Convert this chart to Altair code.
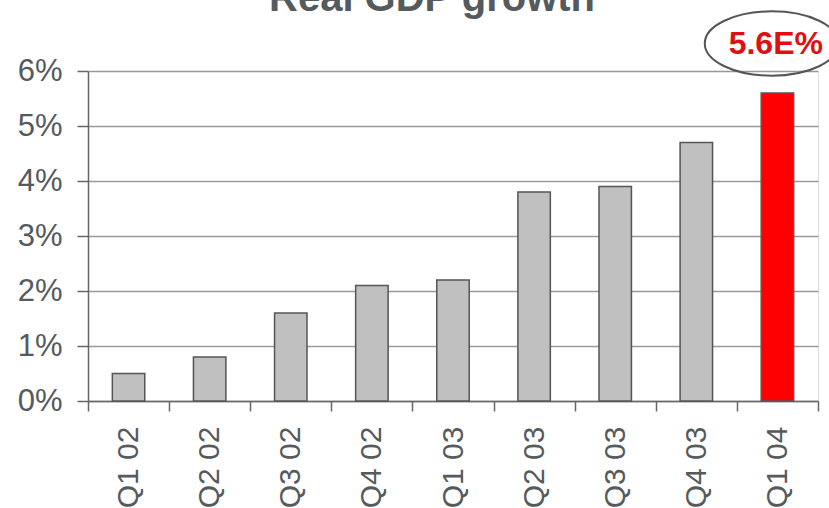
import altair as alt
import pandas as pd

quarters = ["Q1 02", "Q2 02", "Q3 02", "Q4 02", "Q1 03", "Q2 03", "Q3 03", "Q4 03", "Q1 04"]
growth = [0.5, 0.8, 1.6, 2.1, 2.2, 3.8, 3.9, 4.7, 5.6]
highlight = [False, False, False, False, False, False, False, False, True]
y_ticks = [0, 1, 2, 3, 4, 5, 6]
title_text = "Real GDP growth"
callout_quarter = ["Q1 04"]
callout_text = ["5.6E%"]
callout_level = [6.5]

FONT = "Liberation Sans"
TXT = "#555a5d"

df = pd.DataFrame({"q": quarters, "g": growth, "hl": highlight})
call_df = pd.DataFrame({"q": callout_quarter, "t": callout_text, "lvl": callout_level})
title_df = pd.DataFrame({"t": [title_text]})

x_enc = alt.X(
    "q:N", sort=quarters, title=None,
    scale=alt.Scale(paddingInner=0, paddingOuter=0),
    axis=alt.Axis(labelAngle=-90, labelFont=FONT, labelFontSize=30, labelColor=TXT,
                  labelPadding=15, tickBand="extent", tickSize=10, tickColor="#666",
                  tickWidth=1.5, domainColor="#666", domainWidth=1.5, grid=False),
)
y_scale = alt.Scale(domain=[0, 6], nice=False, zero=True)

bars = alt.Chart(df).mark_bar(width=alt.RelativeBandSize(0.4), stroke="#555", strokeWidth=1.5).encode(
    x=x_enc,
    y=alt.Y("g:Q", scale=y_scale, title=None,
            axis=alt.Axis(values=y_ticks, labelExpr="datum.value + '%'", labelFont=FONT,
                          labelFontSize=31, labelColor=TXT, labelPadding=15,
                          tickSize=11, tickColor="#666", tickWidth=1.5,
                          domainColor="#666", domainWidth=1.5,
                          grid=True, gridColor="#999", gridWidth=1.5)),
    color=alt.Color("hl:N", scale=alt.Scale(domain=[False, True], range=["#c0c0c0", "#ff0000"]), legend=None),
)

ellipse_path = "M -1 0 A 1 0.48 0 1 1 1 0 A 1 0.48 0 1 1 -1 0 Z"
ellipse = alt.Chart(call_df).mark_point(
    shape=ellipse_path, size=17956, filled=False, stroke="#555", strokeWidth=2, opacity=1
).encode(
    x=alt.X("q:N", sort=quarters, bandPosition=0.43),
    y=alt.Y("lvl:Q", scale=y_scale),
)

label = alt.Chart(call_df).mark_text(
    font=FONT, fontSize=32, fontWeight="bold", color="#dd1111", align="center", baseline="middle"
).encode(
    x=alt.X("q:N", sort=quarters, bandPosition=0.48),
    y=alt.Y("lvl:Q", scale=y_scale),
    text="t:N",
)

title = alt.Chart(title_df).mark_text(
    font=FONT, fontSize=40, fontWeight="bold", color=TXT, align="center", baseline="alphabetic"
).encode(
    x=alt.value(344), y=alt.value(-60), text="t:N",
)

chart = alt.layer(bars, ellipse, label, title).properties(
    width=730, height=330,
    autosize=alt.AutoSizeParams(type="none"),
    padding={"left": 88, "top": 71, "right": 11, "bottom": 107},
).configure_view(stroke=None).configure(background="white")

chart.save("out.html", embed_options={"renderer": "svg", "actions": False})
